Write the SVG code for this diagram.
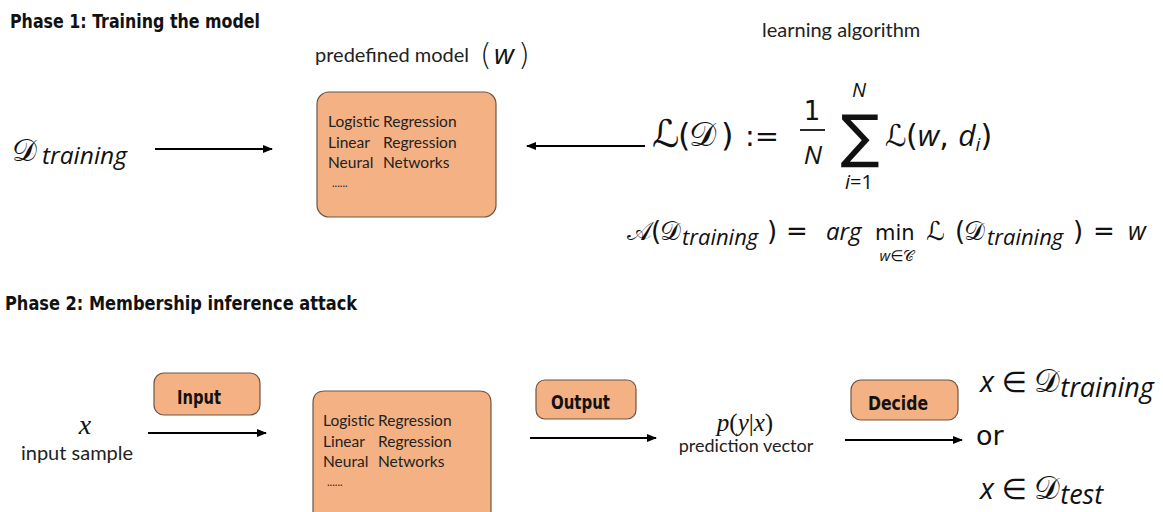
<svg xmlns="http://www.w3.org/2000/svg" width="1163" height="512" viewBox="0 0 1163 512">
<style>
.head{font-family:"DejaVu Sans Condensed","Liberation Sans Narrow","DejaVu Sans",sans-serif;font-weight:bold;font-size:20px;fill:#111}
.lbl{font-family:"Lato","Open Sans","Liberation Sans",sans-serif;fill:#222}
.box{fill:#F4B183;stroke:#6e5444;stroke-width:1.2}
.btxt{font-family:"Lato","Open Sans","Liberation Sans",sans-serif;font-size:15.5px;fill:#222}
.dots{font-family:"Lato","Open Sans","Liberation Sans",sans-serif;font-size:11px;fill:#222}
.tag{font-family:"DejaVu Sans Condensed","Liberation Sans Narrow",sans-serif;font-weight:bold;font-size:20px;fill:#111}
.m{font-family:"DejaVu Sans","Noto Sans",sans-serif;fill:#111}
.mi{font-family:"Open Sans","DejaVu Sans",sans-serif;font-style:italic;fill:#111}
.scr{font-family:"DejaVu Serif","DejaVu Sans","Noto Sans",serif;fill:#111}
.ser{font-family:"Liberation Serif","DejaVu Serif",serif;font-style:italic;fill:#111}
.conn{stroke:#000;stroke-width:2;fill:none;marker-end:url(#ah)}
</style>
<defs>
<marker id="ah" markerWidth="10" markerHeight="8" refX="9" refY="4" orient="auto" markerUnits="userSpaceOnUse">
<path d="M0,0 L10,4 L0,8 Z" fill="#000"/>
</marker>
</defs>
<rect width="1163" height="512" fill="#fff"/>

<text class="head" x="10" y="28" textLength="250" lengthAdjust="spacingAndGlyphs">Phase 1: Training the model</text>
<text class="head" x="5" y="310" textLength="352" lengthAdjust="spacingAndGlyphs">Phase 2: Membership inference attack</text>

<g id="dtraining">
<text class="scr" x="12" y="161" font-size="31">𝒟</text>
<text class="mi" x="42" y="164" font-size="24.5">training</text>
</g>

<g id="model1">
<text class="lbl" x="315" y="62" font-size="20">predefined model</text>
<text class="m" x="480" y="65" font-size="30" font-weight="200">(</text>
<text class="mi" x="494" y="64" font-size="28">w</text>
<text class="m" x="518" y="65" font-size="30" font-weight="200">)</text>
<rect class="box" x="317" y="92" width="179" height="125" rx="12"/>
<text class="btxt" x="328" y="127">Logistic <tspan x="383">Regression</tspan></text>
<text class="btxt" x="328" y="148">Linear <tspan x="383">Regression</tspan></text>
<text class="btxt" x="328" y="168">Neural <tspan x="383">Networks</tspan></text>
<text class="dots" x="332" y="187">......</text>
</g>

<g id="algorithm">
<text class="lbl" x="762" y="37" font-size="20">learning algorithm</text>
<text class="scr" x="652" y="147" font-size="38">ℒ</text>
<text class="m" x="678" y="146" font-size="32">(</text>
<text class="scr" x="689" y="146" font-size="34">𝒟</text>
<text class="m" x="721" y="146" font-size="32">)</text>
<text class="m" x="745" y="146" font-size="29">:=</text>
<text class="m" x="812" y="120" font-size="26" text-anchor="middle">1</text>
<line x1="800" y1="130" x2="825" y2="130" stroke="#111" stroke-width="1.8"/>
<text class="mi" x="813" y="164" font-size="26" text-anchor="middle">N</text>
<text class="m" x="860" y="156" font-size="58" text-anchor="middle">∑</text>
<text class="mi" x="859" y="97" font-size="20" text-anchor="middle">N</text>
<text class="mi" x="859" y="189" font-size="20" text-anchor="middle">i<tspan font-style="normal">=1</tspan></text>
<text class="scr" x="885" y="146" font-size="30">ℒ</text>
<text class="m" x="906" y="146" font-size="30">(<tspan class="mi">w</tspan>, <tspan class="mi">d</tspan><tspan class="mi" font-size="19" dy="5">i</tspan><tspan dy="-5">)</tspan></text>

<text class="scr" x="627" y="240" font-size="26">𝒜</text>
<text class="m" x="651" y="240" font-size="26">(</text>
<text class="scr" x="660" y="240" font-size="26">𝒟</text>
<text class="mi" x="682" y="245" font-size="22">training</text>
<text class="m" x="767" y="240" font-size="26">)</text>
<text class="m" x="786" y="240" font-size="26">=</text>
<text class="mi" x="826" y="240" font-size="24">arg</text>
<text class="m" x="875" y="240" font-size="21">min</text>
<text class="mi" x="897" y="261" font-size="15" text-anchor="middle">w<tspan font-style="normal">∈</tspan><tspan class="scr" font-style="normal">𝒞</tspan></text>
<text class="scr" x="926" y="240" font-size="26">ℒ</text>
<text class="m" x="955" y="240" font-size="26">(</text>
<text class="scr" x="964" y="240" font-size="26">𝒟</text>
<text class="mi" x="987" y="245" font-size="22">training</text>
<text class="m" x="1073" y="240" font-size="26">)</text>
<text class="m" x="1093" y="240" font-size="26">=</text>
<text class="mi" x="1128" y="240" font-size="25">w</text>
</g>

<g id="inputsample">
<text class="ser" x="85" y="434" font-size="28" text-anchor="middle">x</text>
<text class="lbl" x="77" y="460" font-size="20" text-anchor="middle">input sample</text>
</g>

<g id="input">
<rect class="box" x="154" y="373" width="106" height="42" rx="10"/>
<text class="tag" x="177" y="404" textLength="44" lengthAdjust="spacingAndGlyphs">Input</text>
</g>

<g id="model2">
<path class="box" d="M313,513 V403 Q313,391 325,391 H479 Q491,391 491,403 V513"/>
<text class="btxt" x="323" y="426">Logistic <tspan x="378">Regression</tspan></text>
<text class="btxt" x="323" y="447">Linear <tspan x="378">Regression</tspan></text>
<text class="btxt" x="323" y="467">Neural <tspan x="378">Networks</tspan></text>
<text class="dots" x="327" y="486">......</text>
</g>

<g id="output">
<rect class="box" x="536" y="380" width="100" height="39" rx="9"/>
<text class="tag" x="551" y="409" textLength="59" lengthAdjust="spacingAndGlyphs">Output</text>
</g>

<g id="prediction">
<text class="ser" x="745" y="431" font-size="25" text-anchor="middle">p<tspan font-style="normal">(</tspan>y<tspan font-style="normal">|</tspan>x<tspan font-style="normal">)</tspan></text>
<text class="lbl" x="746" y="452" font-size="18" text-anchor="middle">prediction vector</text>
</g>

<g id="decide">
<rect class="box" x="851" y="380" width="107" height="40" rx="10"/>
<text class="tag" x="868" y="410" textLength="60" lengthAdjust="spacingAndGlyphs">Decide</text>
</g>

<g id="result">
<text class="mi" x="980" y="392" font-size="29">x <tspan class="m" font-style="normal">∈</tspan> <tspan class="scr" font-style="normal" font-size="32">𝒟</tspan><tspan font-size="27" dy="5">training</tspan></text>
<text class="m" x="976" y="445" font-size="27">or</text>
<text class="mi" x="980" y="499" font-size="29">x <tspan class="m" font-style="normal">∈</tspan> <tspan class="scr" font-style="normal" font-size="32">𝒟</tspan><tspan font-size="27" dy="5">test</tspan></text>
</g>

<g id="connectors">
<line class="conn" x1="645" y1="146" x2="527" y2="146"/>
<line class="conn" x1="155" y1="149" x2="272" y2="149"/>
<line class="conn" x1="148" y1="433" x2="266" y2="433"/>
<line class="conn" x1="530" y1="438" x2="656" y2="438"/>
<line class="conn" x1="845" y1="440" x2="962" y2="440"/>
</g>
</svg>
